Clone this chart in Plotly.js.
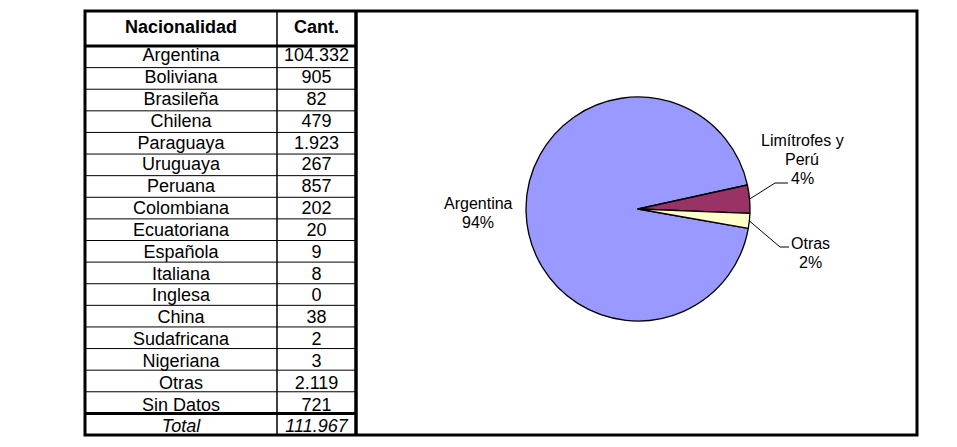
<!DOCTYPE html>
<html><head><meta charset="utf-8">
<script src="https://cdn.plot.ly/plotly-3.0.1.min.js"></script>
<style>html,body{margin:0;padding:0;background:#fff;}#chart{width:957px;height:447px;}</style>
</head><body><div id="chart"></div>
<script>
// ---- data ----
const headers = ['Nacionalidad', 'Cant.'];
const nacionalidades = ['Argentina','Boliviana','Brasileña','Chilena','Paraguaya','Uruguaya','Peruana','Colombiana','Ecuatoriana','Española','Italiana','Inglesa','China','Sudafricana','Nigeriana','Otras','Sin Datos'];
const cantidades = [104332,905,82,479,1923,267,857,202,20,9,8,0,38,2,3,2119,721];
const totalLabel = 'Total';
const totalCantidad = 111967;

const pieLabels = ['Argentina','Limítrofes y Perú','Otras'];
const pieLabelLines = [['Argentina'], ['Limítrofes y','Perú'], ['Otras']];
const pieGroups = [
  ['Argentina'],
  ['Boliviana','Brasileña','Chilena','Paraguaya','Uruguaya','Peruana'],
  ['Colombiana','Ecuatoriana','Española','Italiana','Inglesa','China','Sudafricana','Nigeriana','Otras']
];
const pieColors = ['#9999FF','#993366','#FFFFCC'];

// ---- layout constants ----
const W = 957, H = 447;
const FONT = 'Liberation Sans, Arial, sans-serif';
const TBL = {left:85, sep:277, right:356, top:11, headBottom:46, bottom:435};
const nRows = nacionalidades.length + 1;
const rowH = (TBL.bottom - TBL.headBottom) / nRows;
const TEXT_DRIFT = 0.22;
const PIE = {cx:638, cy:209, r:112, rotation:100};
const LABEL_POS = [ {x:478, y:203}, {x:802, y:140}, {x:810, y:243} ];
const LINE_GAP = 19;
const LEADERS = [null, {elbow:[775,183], end:[788,183]}, {elbow:[780,247], end:[789,247]}];

function fmt(n){ return String(n).replace(/\B(?=(\d{3})+(?!\d))/g, '.'); }

// ---- table text ----
const col1x = (TBL.left + TBL.sep)/2, col2x = (TBL.sep + TBL.right)/2;
const rowY = i => TBL.headBottom + (i + 0.5) * rowH + i * TEXT_DRIFT;
const names = nacionalidades.concat(['<i>' + totalLabel + '</i>']);
const amounts = cantidades.map(fmt).concat(['<i>' + fmt(totalCantidad) + '</i>']);
const ys = names.map((_, i) => rowY(i));

const traces = [];
traces.push({type:'scatter', mode:'text', x:[col1x, col2x], y:[(TBL.top+TBL.headBottom)/2, (TBL.top+TBL.headBottom)/2],
  text: headers.map(h => '<b>' + h + '</b>'), textposition:'middle center',
  textfont:{family:FONT, size:18, color:'#000'}, hoverinfo:'skip', showlegend:false});
traces.push({type:'scatter', mode:'text', x:names.map(()=>col1x), y:ys, text:names, textposition:'middle center',
  textfont:{family:FONT, size:18, color:'#000'}, hoverinfo:'skip', showlegend:false});
traces.push({type:'scatter', mode:'text', x:amounts.map(()=>col2x), y:ys, text:amounts, textposition:'middle center',
  textfont:{family:FONT, size:18, color:'#000'}, hoverinfo:'skip', showlegend:false});

// ---- pie ----
const pieValues = pieGroups.map(g => g.reduce((s, n) => s + cantidades[nacionalidades.indexOf(n)], 0));
const pieTotal = pieValues.reduce((a,b)=>a+b, 0);
traces.push({type:'pie', labels:pieLabels, values:pieValues, sort:false, direction:'clockwise', rotation:PIE.rotation,
  marker:{colors:pieColors, line:{color:'#000', width:1.3}}, textinfo:'none', hoverinfo:'skip', showlegend:false,
  domain:{x:[(PIE.cx-PIE.r)/W, (PIE.cx+PIE.r)/W], y:[1-(PIE.cy+PIE.r)/H, 1-(PIE.cy-PIE.r)/H]}});

// ---- shapes ----
const shapes = [];
const blk = w => ({color:'#000', width:w});
shapes.push({type:'rect', xref:'x', yref:'y', x0:TBL.left, x1:917, y0:TBL.top, y1:TBL.bottom, line:blk(3)});
shapes.push({type:'line', xref:'x', yref:'y', x0:TBL.right, x1:TBL.right, y0:TBL.top, y1:TBL.bottom, line:blk(3.5)});
shapes.push({type:'line', xref:'x', yref:'y', x0:TBL.sep, x1:TBL.sep, y0:TBL.top, y1:TBL.bottom, line:blk(1.5)});
shapes.push({type:'line', xref:'x', yref:'y', x0:TBL.left, x1:TBL.right, y0:TBL.headBottom, y1:TBL.headBottom, line:blk(3)});
for (let i = 1; i < nRows; i++) {
  const y = TBL.headBottom + i * rowH;
  shapes.push({type:'line', xref:'x', yref:'y', x0:TBL.left, x1:TBL.right, y0:y, y1:y, line:blk(i === nRows-1 ? 3 : 1)});
}

// ---- pie labels & leader lines ----
const annotations = [];
let cum = 0;
pieValues.forEach((v, k) => {
  const mid = (PIE.rotation + 360 * (cum + v/2) / pieTotal) * Math.PI / 180;
  cum += v;
  const lines = pieLabelLines[k].concat([Math.round(100 * v / pieTotal) + '%']);
  lines.forEach((t, j) => annotations.push({xref:'x', yref:'y', x:LABEL_POS[k].x, y:LABEL_POS[k].y + j*LINE_GAP,
    text:t, showarrow:false, xanchor:'center', yanchor:'middle', font:{family:FONT, size:16, color:'#000'}}));
  const L = LEADERS[k];
  if (L) {
    const ex = PIE.cx + PIE.r * Math.sin(mid), ey = PIE.cy - PIE.r * Math.cos(mid);
    shapes.push({type:'path', xref:'x', yref:'y', path:`M ${ex},${ey} L ${L.elbow[0]},${L.elbow[1]} L ${L.end[0]},${L.end[1]}`, line:blk(1)});
  }
});

const layout = {
  width:W, height:H, margin:{l:0, r:0, t:0, b:0}, paper_bgcolor:'#fff', plot_bgcolor:'rgba(0,0,0,0)',
  showlegend:false, hovermode:false,
  xaxis:{range:[0, W], visible:false, fixedrange:true},
  yaxis:{range:[H, 0], visible:false, fixedrange:true},
  shapes:shapes, annotations:annotations
};
Plotly.newPlot('chart', traces, layout, {displayModeBar:false, staticPlot:true});
</script></body></html>
